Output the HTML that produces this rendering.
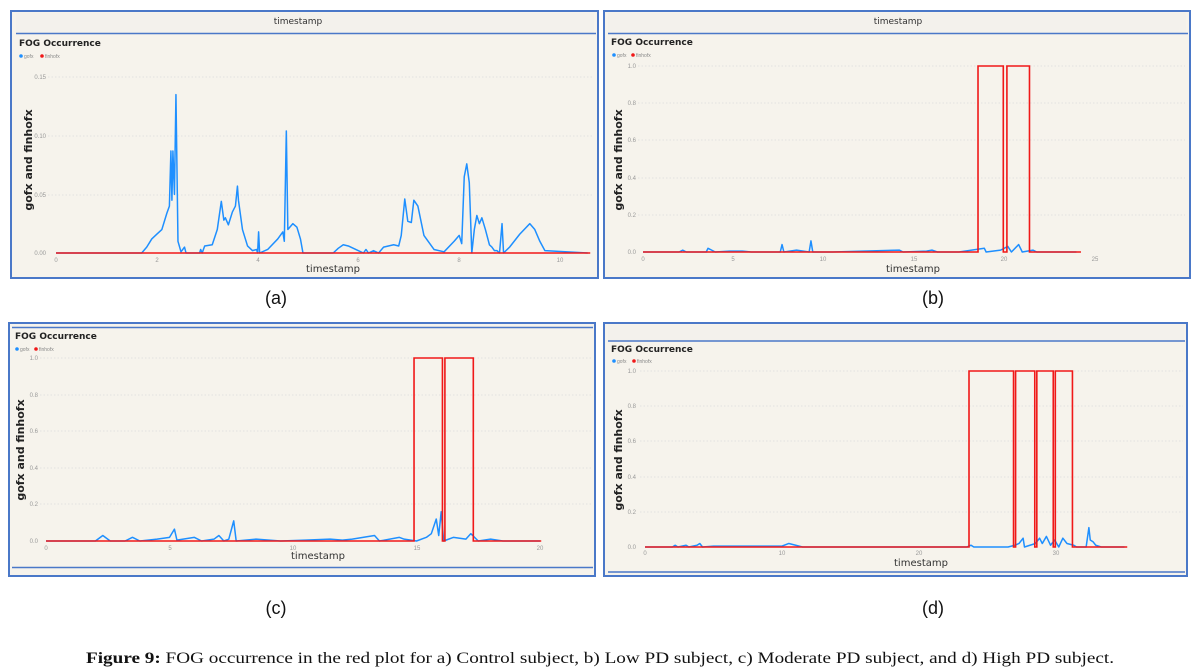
<!DOCTYPE html>
<html><head><meta charset="utf-8"><style>
html,body{margin:0;padding:0;background:#fff;}
svg{display:block}
.tk{font:6px "Liberation Sans",sans-serif;fill:#999}
.ttl{font:bold 9px "DejaVu Sans",sans-serif;fill:#222}
.yl{font:bold 11px "DejaVu Sans",sans-serif;fill:#222}
.xl{font:10px "DejaVu Sans",sans-serif;fill:#333}
.hd{font:9px "DejaVu Sans",sans-serif;fill:#333}
.lg{font:5px "Liberation Sans",sans-serif;fill:#888}
.cap{font:18px "Liberation Sans",sans-serif;fill:#111}
.grid{stroke:#ddd;stroke-width:0.8;stroke-dasharray:1.5 2}
.b{fill:none;stroke:#1e8fff;stroke-width:1.5;vector-effect:non-scaling-stroke;stroke-linejoin:round}
.r{fill:none;stroke:#f01818;stroke-width:1.6;vector-effect:non-scaling-stroke}
</style></head><body>
<svg width="1201" height="670" viewBox="0 0 1201 670" xmlns="http://www.w3.org/2000/svg">
<rect width="1201" height="670" fill="#fff"/>

<!-- Panel A -->
<rect x="11" y="11" width="587" height="267" fill="#f6f3ec" stroke="#4a78c8" stroke-width="2"/>
<rect x="16" y="13" width="578" height="20" fill="#f3f1ec"/>
<line x1="16" y1="33.5" x2="596" y2="33.5" stroke="#4a78c8" stroke-width="1.5"/>
<text class="hd" x="298" y="24" text-anchor="middle">timestamp</text>
<text class="ttl" x="19" y="46">FOG Occurrence</text>
<circle cx="21" cy="56" r="1.8" fill="#1e8fff"/><text class="lg" x="24" y="58">gofx</text>
<circle cx="42" cy="56" r="1.8" fill="#f01818"/><text class="lg" x="45" y="58">finhofx</text>
<g class="grid"><line x1="48" y1="77" x2="592" y2="77"/><line x1="48" y1="136" x2="592" y2="136"/><line x1="48" y1="195" x2="592" y2="195"/></g>
<g class="tk" text-anchor="end"><text x="46" y="79">0.15</text><text x="46" y="138">0.10</text><text x="46" y="197">0.05</text><text x="46" y="255">0.00</text></g>
<g class="tk" text-anchor="middle"><text x="56" y="262">0</text><text x="157" y="262">2</text><text x="258" y="262">4</text><text x="358" y="262">6</text><text x="459" y="262">8</text><text x="560" y="262">10</text></g>
<text class="xl" x="333" y="272" text-anchor="middle">timestamp</text>
<text class="yl" transform="translate(32,160) rotate(-90)" text-anchor="middle">gofx and finhofx</text>
<g transform="translate(56,253) scale(50.4,-1173)">
<polyline class="b" points="0,0 1.7,0 1.8,0.005 1.9,0.012 2.0,0.016 2.1,0.02 2.2,0.034 2.25,0.04 2.28,0.087 2.3,0.045 2.32,0.087 2.35,0.05 2.38,0.135 2.42,0.01 2.48,0.001 2.55,0.005 2.58,0 2.85,0 2.87,0.003 2.9,0 2.95,0.006 3.1,0.007 3.2,0.02 3.28,0.044 3.33,0.028 3.36,0.03 3.42,0.024 3.5,0.035 3.56,0.04 3.6,0.057 3.62,0.045 3.7,0.02 3.8,0.006 3.9,0.002 3.98,0.003 4.0,0 4.02,0.018 4.04,0 4.2,0.003 4.4,0.012 4.5,0.018 4.53,0.01 4.57,0.104 4.6,0.02 4.7,0.025 4.78,0.022 4.85,0.012 4.9,0 5.5,0 5.6,0.004 5.7,0.007 5.8,0.006 6.0,0.002 6.1,0 6.15,0.003 6.2,0 6.3,0.002 6.4,0 6.5,0.005 6.7,0.007 6.8,0.006 6.85,0.015 6.92,0.046 6.98,0.027 7.05,0.026 7.1,0.045 7.18,0.04 7.3,0.015 7.5,0.003 7.7,0.001 7.9,0.01 8.0,0.015 8.05,0.008 8.1,0.065 8.15,0.076 8.2,0.06 8.25,0 8.3,0.02 8.35,0.032 8.4,0.025 8.45,0.03 8.52,0.02 8.6,0.007 8.65,0.005 8.7,0.002 8.75,0.002 8.8,0 8.85,0.025 8.88,0 9.0,0.005 9.2,0.016 9.4,0.025 9.5,0.02 9.6,0.01 9.7,0.002 10.55,0"/>
<polyline class="r" points="0,0 10.6,0"/>
</g>

<!-- Panel B -->
<rect x="604" y="11" width="586" height="267" fill="#f6f3ec" stroke="#4a78c8" stroke-width="2"/>
<rect x="608" y="13" width="578" height="20" fill="#f3f1ec"/>
<line x1="608" y1="33.5" x2="1188" y2="33.5" stroke="#4a78c8" stroke-width="1.5"/>
<text class="hd" x="898" y="24" text-anchor="middle">timestamp</text>
<text class="ttl" x="611" y="45">FOG Occurrence</text>
<circle cx="614" cy="55" r="1.8" fill="#1e8fff"/><text class="lg" x="617" y="57">gofx</text>
<circle cx="633" cy="55" r="1.8" fill="#f01818"/><text class="lg" x="636" y="57">finhofx</text>
<g class="grid"><line x1="638" y1="66" x2="1185" y2="66"/><line x1="638" y1="103" x2="1185" y2="103"/><line x1="638" y1="140" x2="1185" y2="140"/><line x1="638" y1="178" x2="1185" y2="178"/><line x1="638" y1="215" x2="1185" y2="215"/></g>
<g class="tk" text-anchor="end"><text x="636" y="68">1.0</text><text x="636" y="105">0.8</text><text x="636" y="142">0.6</text><text x="636" y="180">0.4</text><text x="636" y="217">0.2</text><text x="636" y="254">0.0</text></g>
<g class="tk" text-anchor="middle"><text x="643" y="261">0</text><text x="733" y="261">5</text><text x="823" y="261">10</text><text x="914" y="261">15</text><text x="1004" y="261">20</text><text x="1095" y="261">25</text></g>
<text class="xl" x="913" y="272" text-anchor="middle">timestamp</text>
<text class="yl" transform="translate(622,160) rotate(-90)" text-anchor="middle">gofx and finhofx</text>
<g transform="translate(643,252) scale(18.06,-186)">
<polyline class="b" points="0,0 2,0 2.2,0.01 2.4,0 3.5,0 3.6,0.02 3.8,0.01 4,0 4.8,0.005 5.5,0.005 6,0 7.6,0 7.7,0.04 7.8,0 8.5,0.01 9.2,0 9.3,0.06 9.4,0 10.5,0 14.2,0.01 14.4,0 15.7,0.005 16,0.01 16.3,0 17.5,0 18.9,0.02 19,0 19.8,0.01 20.2,0.03 20.4,0 20.8,0.04 21,0 21.6,0.01 21.8,0 24,0"/>
<polyline class="r" points="0,0 18.55,0 18.55,1 19.95,1 19.95,0 20.15,0 20.15,1 21.4,1 21.4,0 24.25,0"/>
</g>

<!-- Panel C -->
<rect x="9" y="323" width="586" height="253" fill="#f6f3ec" stroke="#4a78c8" stroke-width="2"/>
<line x1="12" y1="327.5" x2="593" y2="327.5" stroke="#4a78c8" stroke-width="1.5"/>
<line x1="12" y1="567.5" x2="593" y2="567.5" stroke="#4a78c8" stroke-width="1.5"/>
<text class="ttl" x="15" y="339">FOG Occurrence</text>
<circle cx="17" cy="349" r="1.8" fill="#1e8fff"/><text class="lg" x="20" y="351">gofx</text>
<circle cx="36" cy="349" r="1.8" fill="#f01818"/><text class="lg" x="39" y="351">finhofx</text>
<g class="grid"><line x1="40" y1="358" x2="592" y2="358"/><line x1="40" y1="395" x2="592" y2="395"/><line x1="40" y1="431" x2="592" y2="431"/><line x1="40" y1="468" x2="592" y2="468"/><line x1="40" y1="504" x2="592" y2="504"/></g>
<g class="tk" text-anchor="end"><text x="38" y="360">1.0</text><text x="38" y="397">0.8</text><text x="38" y="433">0.6</text><text x="38" y="470">0.4</text><text x="38" y="506">0.2</text><text x="38" y="543">0.0</text></g>
<g class="tk" text-anchor="middle"><text x="46" y="550">0</text><text x="170" y="550">5</text><text x="293" y="550">10</text><text x="417" y="550">15</text><text x="540" y="550">20</text></g>
<text class="xl" x="318" y="559" text-anchor="middle">timestamp</text>
<text class="yl" transform="translate(24,450) rotate(-90)" text-anchor="middle">gofx and finhofx</text>
<g transform="translate(46,541) scale(24.7,-183)">
<polyline class="b" points="0,0 2,0 2.3,0.03 2.6,0 3.2,0 3.5,0.02 3.8,0 4.5,0.01 5.0,0.02 5.2,0.065 5.3,0.005 6,0.02 6.3,0 6.8,0.01 7,0.03 7.2,0 7.4,0.01 7.6,0.11 7.7,0 8.5,0.01 9.5,0 10.5,0.005 11.5,0.01 12,0.005 12.4,0.01 13.3,0.03 13.5,0 14.3,0.02 14.5,0.01 15,0 15.4,0.02 15.6,0.04 15.8,0.12 15.9,0.03 16,0.16 16.1,0 16.5,0.02 17,0.01 17.2,0.04 17.5,0 18,0.01 18.5,0 20,0"/>
<polyline class="r" points="0,0 14.9,0 14.9,1 16.05,1 16.05,0 16.15,0 16.15,1 17.3,1 17.3,0 20.05,0"/>
</g>

<!-- Panel D -->
<rect x="604" y="323" width="583" height="253" fill="#f6f3ec" stroke="#4a78c8" stroke-width="2"/>
<rect x="608" y="325" width="576" height="15" fill="#f3f1ec"/>
<line x1="608" y1="341" x2="1185" y2="341" stroke="#4a78c8" stroke-width="1.5"/>
<line x1="608" y1="572" x2="1185" y2="572" stroke="#4a78c8" stroke-width="1.5"/>
<text class="ttl" x="611" y="352">FOG Occurrence</text>
<circle cx="614" cy="361" r="1.8" fill="#1e8fff"/><text class="lg" x="617" y="363">gofx</text>
<circle cx="634" cy="361" r="1.8" fill="#f01818"/><text class="lg" x="637" y="363">finhofx</text>
<g class="grid"><line x1="640" y1="371" x2="1183" y2="371"/><line x1="640" y1="406" x2="1183" y2="406"/><line x1="640" y1="441" x2="1183" y2="441"/><line x1="640" y1="477" x2="1183" y2="477"/><line x1="640" y1="512" x2="1183" y2="512"/></g>
<g class="tk" text-anchor="end"><text x="636" y="373">1.0</text><text x="636" y="408">0.8</text><text x="636" y="443">0.6</text><text x="636" y="479">0.4</text><text x="636" y="514">0.2</text><text x="636" y="549">0.0</text></g>
<g class="tk" text-anchor="middle"><text x="645" y="555">0</text><text x="782" y="555">10</text><text x="919" y="555">20</text><text x="1056" y="555">30</text></g>
<text class="xl" x="921" y="566" text-anchor="middle">timestamp</text>
<text class="yl" transform="translate(622,460) rotate(-90)" text-anchor="middle">gofx and finhofx</text>
<g transform="translate(645,547) scale(13.7,-176)">
<polyline class="b" points="0,0 2,0 2.2,0.01 2.4,0 3,0.01 3.2,0 3.8,0.01 4,0.02 4.2,0 5,0.005 10,0.005 10.5,0.02 11,0.01 11.5,0 23.5,0 23.8,0.01 24,0 26.5,0 27,0.01 27.3,0.02 27.6,0.05 27.7,0 28.5,0.02 28.8,0.05 29,0.02 29.3,0.06 29.6,0.01 29.9,0.04 30.2,0 30.5,0.05 30.8,0.02 31.3,0.01 31.5,0 32.2,0 32.4,0.11 32.5,0.04 32.7,0.03 32.9,0.01 33.3,0 35,0"/>
<polyline class="r" points="0,0 23.65,0 23.65,1 26.9,1 26.9,0 27.05,0 27.05,1 28.45,1 28.45,0 28.6,0 28.6,1 29.8,1 29.8,0 29.95,0 29.95,1 31.2,1 31.2,0 35.2,0"/>
</g>

<!-- Sub labels -->
<text class="cap" x="276" y="304" text-anchor="middle">(a)</text>
<text class="cap" x="933" y="304" text-anchor="middle">(b)</text>
<text class="cap" x="276" y="614" text-anchor="middle">(c)</text>
<text class="cap" x="933" y="614" text-anchor="middle">(d)</text>

<text x="86" y="663" textLength="1028" lengthAdjust="spacingAndGlyphs" style="font:16px 'Liberation Serif',serif;fill:#111"><tspan font-weight="bold">Figure 9:</tspan> FOG occurrence in the red plot for a) Control subject, b) Low PD subject, c) Moderate PD subject, and d) High PD subject.</text>
</svg>
</body></html>
